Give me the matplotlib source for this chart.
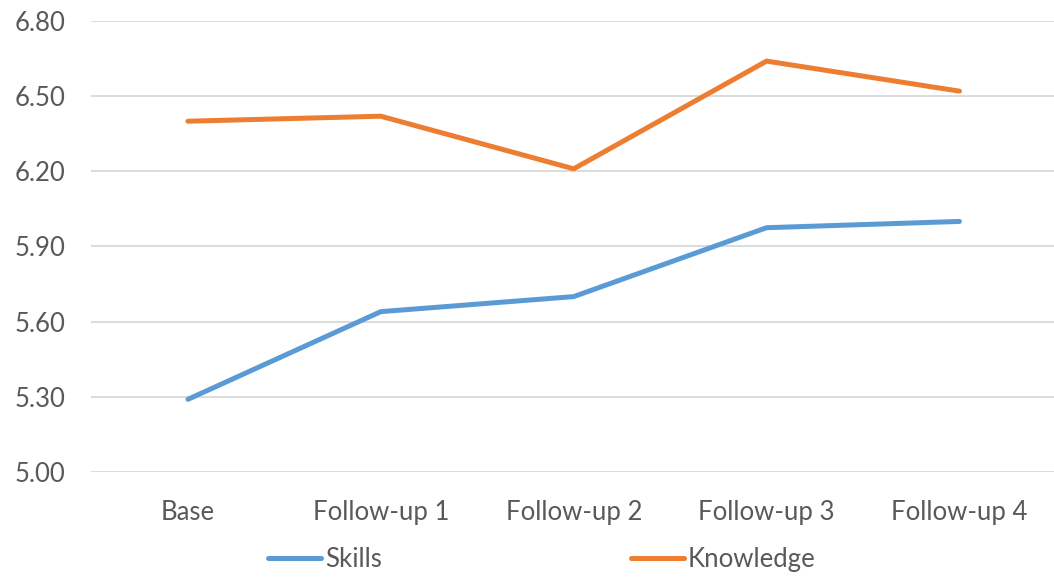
import matplotlib
matplotlib.use("Agg")
import matplotlib.pyplot as plt
from matplotlib.ticker import FixedLocator, FormatStrFormatter

categories = ["Base", "Follow-up 1", "Follow-up 2", "Follow-up 3", "Follow-up 4"]
skills = [5.29, 5.64, 5.70, 5.975, 6.00]
knowledge = [6.40, 6.42, 6.21, 6.64, 6.52]
y_ticks = [5.00, 5.30, 5.60, 5.90, 6.20, 6.50, 6.80]

plt.rcParams['font.family'] = ['Lato', 'DejaVu Sans']

fig = plt.figure(figsize=(10.54, 5.77), dpi=100)
ax = fig.add_axes([0.0868, 0.182, 0.915, 0.7816])

x = list(range(len(categories)))
ax.plot(x, skills, color="#5b9bd5", lw=3.6, solid_capstyle="round", label="Skills", zorder=3)
ax.plot(x, knowledge, color="#ed7d31", lw=3.6, solid_capstyle="round", label="Knowledge", zorder=3)

ax.set_xlim(-0.5, len(categories) - 0.5)
ax.set_ylim(5.00, 6.80)
ax.yaxis.set_major_locator(FixedLocator(y_ticks))
ax.yaxis.set_major_formatter(FormatStrFormatter("%.2f"))
ax.set_xticks(x)
ax.set_xticklabels(categories)
ax.grid(axis="y", color="#d9d9d9", lw=1.3)
ax.set_axisbelow(True)
for s in ax.spines.values():
    s.set_visible(False)
ax.tick_params(axis="both", length=0, labelsize=18.5, colors="#595959")
ax.tick_params(axis="y", pad=19)
ax.tick_params(axis="x", pad=20)

fig.legend(loc="center", bbox_to_anchor=(0.514, 0.031), ncol=2, frameon=False,
           fontsize=18.5, labelcolor="#595959", handlelength=2.06, handletextpad=0.15,
           columnspacing=9.7)

fig.savefig("out.png", dpi=100)
